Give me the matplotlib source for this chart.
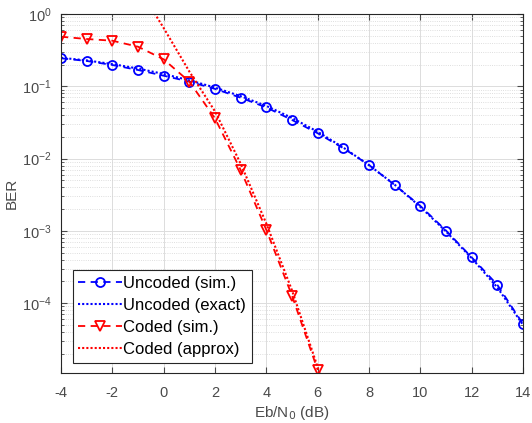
import numpy as np
import matplotlib.pyplot as plt

plt.rcParams['font.family'] = ['Liberation Sans', 'DejaVu Sans']
plt.rcParams['axes.unicode_minus'] = False

ebno = [-4, -3, -2, -1, 0, 1, 2, 3, 4, 5, 6, 7, 8, 9, 10, 11, 12, 13, 14]

# uncoded, simulated and exact
ber_unc_sim = [0.244, 0.224, 0.197, 0.168, 0.140, 0.116, 0.092, 0.0695, 0.051, 0.0342,
               0.0224, 0.0139, 0.00815, 0.00431, 0.00221, 0.00101, 4.3e-4, 1.79e-4, 5.15e-5]
ber_unc_exact = [0.248, 0.228, 0.203, 0.176, 0.148, 0.121, 0.096, 0.073, 0.0535, 0.0365,
                 0.0235, 0.0142, 0.0081, 0.00435, 0.00215, 0.00098, 4.2e-4, 1.65e-4, 5.0e-5]

# coded, simulated and union-bound approximation
ebno_coded = [-4, -3, -2, -1, 0, 1, 2, 3, 4, 5, 6]
ber_cod_sim = [0.485, 0.451, 0.427, 0.353, 0.236, 0.116, 0.036, 0.00695, 0.00103, 1.27e-4, 1.19e-5]

ebno_approx = [-1, 0, 1, 2, 3, 4, 5, 6, 7]
ber_cod_approx = [2.4, 0.64, 0.16, 0.045, 0.0085, 0.00126, 1.5e-4, 1.3e-5, 8e-7]


def main():
    fig = plt.figure(figsize=(5.32, 4.23), dpi=100)
    ax = fig.add_axes([61 / 532, 50 / 423, 462 / 532, 359 / 423])

    ax.semilogy(ebno, ber_unc_sim, 'b', ls=(0, (4, 3)), marker='o', mfc='none', ms=6.5,
                mew=1.3, lw=1.3, label='Uncoded (sim.)')
    ax.semilogy(ebno, ber_unc_exact, 'b', ls=(0, (1, 1)), lw=1.5, label='Uncoded (exact)')
    ax.semilogy(ebno_coded, ber_cod_sim, 'r', ls=(0, (4, 3)), marker='v', mfc='none', ms=7.5,
                mew=1.3, lw=1.3, label='Coded (sim.)')
    ax.semilogy(ebno_approx, ber_cod_approx, 'r', ls=(0, (1, 1)), lw=1.5, label='Coded (approx)')

    ax.set_xlim(-4, 14)
    ax.set_ylim(1.08e-5, 1)
    ax.set_xticks(range(-4, 15, 2))

    ax.grid(True, which='major', color='#dcdcdc', lw=0.7)
    ax.grid(True, which='minor', axis='y', color='#d4d4d4', lw=0.6, ls=':')
    ax.set_axisbelow(True)

    ax.tick_params(which='both', direction='in', top=True, right=True, colors='#4a4a4a',
                   labelsize=10.5)
    ax.tick_params(which='major', length=4)
    ax.tick_params(which='minor', length=2)
    ax.tick_params(axis='x', pad=9)
    ax.tick_params(axis='y', pad=7)
    for s in ax.spines.values():
        s.set_color('#262626')
        s.set_linewidth(0.8)

    ax.set_xlabel('Eb/N$_0$ (dB)', fontsize=11, color='#4a4a4a', labelpad=3)
    ax.set_ylabel('BER', fontsize=11, color='#4a4a4a', labelpad=2)

    leg = ax.legend(loc='lower left', bbox_to_anchor=(0.025, 0.029), borderaxespad=0,
                    fontsize=12, fancybox=False, framealpha=1, edgecolor='#262626',
                    handlelength=2.6, handletextpad=0.1, labelspacing=0.42,
                    borderpad=0.35)
    leg.get_frame().set_linewidth(0.8)

    plt.savefig('out.png', dpi=100)


if __name__ == '__main__':
    main()
